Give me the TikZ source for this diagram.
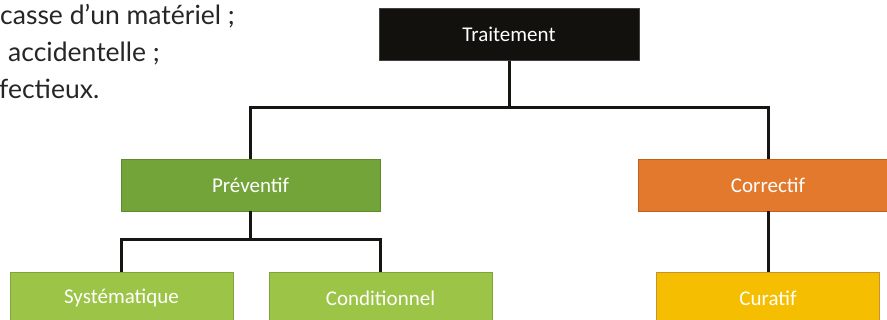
\documentclass[tikz,border=0pt]{standalone}
\usepackage{fontspec}
\setmainfont{Carlito}
\newfontfamily\bodyfont{Lato}
\definecolor{tblack}{HTML}{12110D}
\definecolor{pgreen}{HTML}{72A43A}
\definecolor{pgreenb}{HTML}{5E8A30}
\definecolor{lgreen}{HTML}{9CC446}
\definecolor{lgreenb}{HTML}{7FA43A}
\definecolor{corange}{HTML}{E2792C}
\definecolor{corangeb}{HTML}{C0601E}
\definecolor{cyellow}{HTML}{F5BE00}
\definecolor{cyellowb}{HTML}{C9902F}
\definecolor{conncol}{HTML}{161512}
\tikzset{
  box/.style={rectangle, inner sep=0pt, minimum height=52pt, text=white,
    font=\fontsize{21}{25}\selectfont, line width=0.8pt},
  conn/.style={draw=conncol, line width=3pt},
  bodytext/.style={anchor=base west, inner sep=0pt, text=black!85,
    font=\bodyfont\fontsize{26.5}{30}\selectfont}
}
\begin{document}
\begin{tikzpicture}[x=1pt,y=-1pt]
\useasboundingbox (0,0) rectangle (887,320);
\clip (0,0) rectangle (887,320);
\node[bodytext] (l1) at (0,25) {casse d’un matériel ;};
\node[bodytext] (l2) at (8,62) {accidentelle ;};
\node[bodytext] (l3) at (-1,99) {fectieux.};
\node[box, fill=tblack, draw=tblack!80, minimum width=260pt] (t) at (509,34.5) {Traitement};
\node[box, fill=pgreen, draw=pgreenb, minimum width=259pt] (p) at (250.5,185) {Préventif};
\node[box, fill=corange, draw=corangeb, minimum width=259pt] (c) at (768,185) {Correctif};
\node[box, fill=lgreen, draw=lgreenb, minimum width=223pt] (s) at (121.5,298) {Systématique};
\node[box, fill=lgreen, draw=lgreenb, minimum width=223pt] (cd) at (380.5,298) {Conditionnel};
\node[box, fill=cyellow, draw=cyellowb, minimum width=223pt] (cu) at (768,298) {Curatif};
\coordinate (jt) at (509,108);
\coordinate (jp) at (250.5,240);
\draw[conn] (t.south) -- (jt);
\draw[conn] (p.north) |- (jt) -| (c.north);
\draw[conn] (p.south) -- (jp);
\draw[conn] (s.north) |- (jp) -| (cd.north);
\draw[conn] (c.south) -- (cu.north);
\end{tikzpicture}
\end{document}
